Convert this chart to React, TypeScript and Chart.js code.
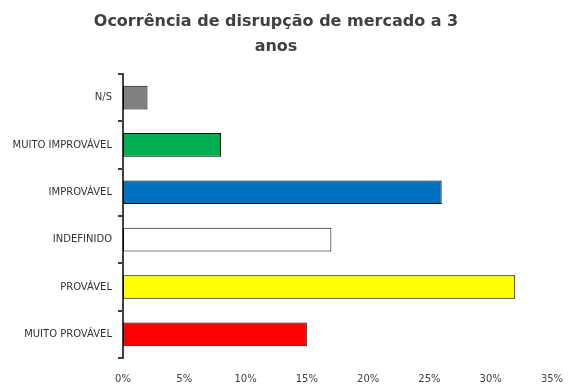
import React, { useEffect, useRef } from "react";
import { Chart, registerables } from "chart.js";

Chart.register(...registerables);

const titleLines = ["Ocorrência de disrupção de mercado a 3", "anos"];
const categories = ["N/S", "MUITO IMPROVÁVEL", "IMPROVÁVEL", "INDEFINIDO", "PROVÁVEL", "MUITO PROVÁVEL"];
const values = [2, 8, 26, 17, 32, 15];
const barColors = ["#808080", "#00B050", "#0070C0", "#FFFFFF", "#FFFF00", "#FF0000"];
const xMin = 0;
const xMax = 35;
const xStep = 5;

const FONT = "Tahoma, 'DejaVu Sans', Verdana, sans-serif";

export default function App() {
  const ref = useRef<HTMLCanvasElement | null>(null);

  useEffect(() => {
    if (!ref.current) return;
    const chart = new Chart(ref.current, {
      type: "bar",
      data: {
        labels: categories,
        datasets: [
          {
            data: values,
            backgroundColor: barColors,
            borderColor: "#000000",
            borderWidth: 1,
            borderSkipped: false,
            categoryPercentage: 1,
            barPercentage: 0.5,
          },
        ],
      },
      options: {
        indexAxis: "y",
        animation: false,
        responsive: true,
        maintainAspectRatio: false,
        layout: { padding: { left: 0, right: 27, top: 0, bottom: 0 } },
        plugins: {
          legend: { display: false },
          tooltip: { enabled: false },
          title: {
            display: true,
            text: titleLines,
            color: "#404040",
            font: { family: FONT, size: 16, weight: "bold", lineHeight: 1.56 },
            padding: { top: 9, bottom: 15 },
          },
        },
        scales: {
          x: {
            min: xMin,
            max: xMax,
            grid: { display: false },
            border: { display: false },
            ticks: {
              stepSize: xStep,
              color: "#404040",
              padding: 7,
              font: { family: FONT, size: 10 },
              callback: (v: any) => `${v}%`,
            },
            afterFit: (s: any) => {
              s.height = 34;
            },
          },
          y: {
            grid: {
              display: true,
              drawOnChartArea: false,
              drawTicks: true,
              tickLength: 5,
              offset: true,
              color: "#404040",
              lineWidth: 2,
            },
            border: { display: true, color: "#404040", width: 2 },
            ticks: {
              color: "#333333",
              padding: 6,
              font: { family: FONT, size: 10 },
            },
            afterFit: (s: any) => {
              s.width = 123;
            },
          },
        },
      },
    });
    return () => chart.destroy();
  }, []);

  return (
    <div style={{ position: "fixed", left: 0, top: 0, width: 579, height: 392, background: "#fff" }}>
      <canvas ref={ref} />
    </div>
  );
}
